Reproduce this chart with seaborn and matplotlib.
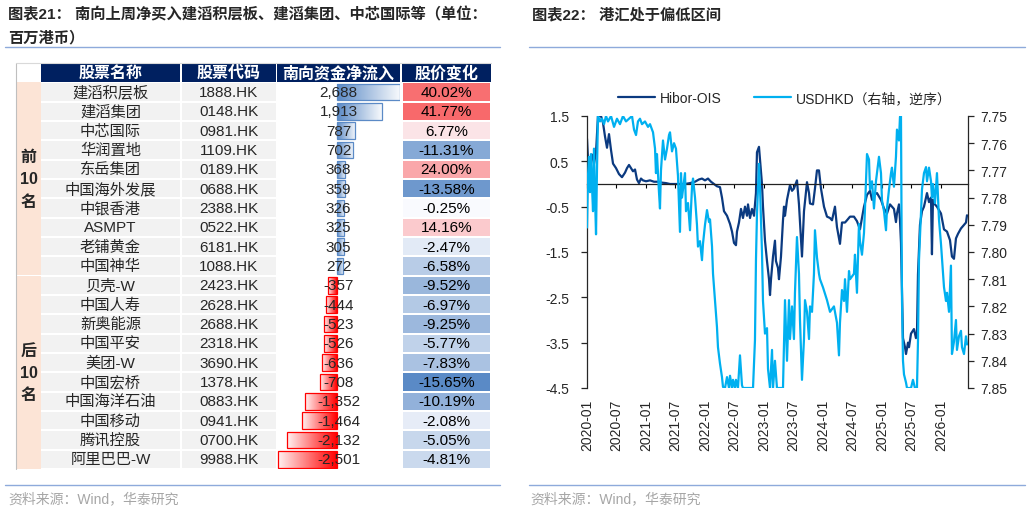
import numpy as np
import pandas as pd
import matplotlib
matplotlib.use("Agg")
import matplotlib.pyplot as plt
import matplotlib.dates as mdates
from matplotlib.colors import LinearSegmentedColormap, TwoSlopeNorm
from matplotlib.patches import Rectangle
import seaborn as sns

# ---------------- 表格数据 ----------------
names = ['建滔积层板', '建滔集团', '中芯国际', '华润置地', '东岳集团', '中国海外发展',
         '中银香港', 'ASMPT', '老铺黄金', '中国神华', '贝壳-W', '中国人寿', '新奥能源',
         '中国平安', '美团-W', '中国宏桥', '中国海洋石油', '中国移动', '腾讯控股', '阿里巴巴-W']
codes = ['1888.HK', '0148.HK', '0981.HK', '1109.HK', '0189.HK', '0688.HK', '2388.HK',
         '0522.HK', '6181.HK', '1088.HK', '2423.HK', '2628.HK', '2688.HK', '2318.HK',
         '3690.HK', '1378.HK', '0883.HK', '0941.HK', '0700.HK', '9988.HK']
net_inflow = [2688, 1913, 787, 702, 368, 359, 326, 325, 305, 272,
              -357, -444, -523, -526, -636, -708, -1352, -1464, -2132, -2501]
price_chg = [40.02, 41.77, 6.77, -11.31, 24.00, -13.58, -0.25, 14.16, -2.47, -6.58,
             -9.52, -6.97, -9.25, -5.77, -7.83, -15.65, -10.19, -2.08, -5.05, -4.81]
headers = ['股票名称', '股票代码', '南向资金净流入', '股价变化']
groups = ['前\n10\n名', '后\n10\n名']

# ---------------- 港汇数据 (时间: 距2020-01-01的年数) ----------------
hibor_t = [0.000, 0.017, 0.051, 0.085, 0.119, 0.153, 0.186, 0.237, 0.271, 0.305,
           0.339, 0.373, 0.407, 0.441, 0.492, 0.542, 0.593, 0.644, 0.678, 0.712,
           0.746, 0.780, 0.814, 0.847, 0.881, 0.915, 0.949, 1.000, 1.068, 1.136,
           1.203, 1.271, 1.339, 1.407, 1.492, 1.576, 1.661, 1.746, 1.831, 1.898,
           1.949, 2.000, 2.051, 2.102, 2.153, 2.203, 2.254, 2.288, 2.322, 2.373,
           2.424, 2.458, 2.492, 2.525, 2.542, 2.576, 2.610, 2.644, 2.678, 2.712,
           2.729, 2.763, 2.797, 2.831, 2.864, 2.881, 2.915, 2.932, 2.966, 2.983,
           3.017, 3.051, 3.085, 3.102, 3.119, 3.153, 3.186, 3.203, 3.237, 3.254,
           3.288, 3.322, 3.339, 3.356, 3.390, 3.441, 3.475, 3.508, 3.559, 3.593,
           3.627, 3.644, 3.678, 3.729, 3.763, 3.780, 3.831, 3.864, 3.898, 3.932,
           3.966, 4.017, 4.068, 4.119, 4.153, 4.203, 4.237, 4.288, 4.322, 4.373,
           4.407, 4.458, 4.525, 4.576, 4.627, 4.695, 4.746, 4.797, 4.831, 4.864,
           4.915, 4.983, 5.034, 5.085, 5.136, 5.203, 5.237, 5.254, 5.288, 5.305,
           5.322, 5.339, 5.356, 5.390, 5.407, 5.441, 5.458, 5.492, 5.542, 5.576,
           5.593, 5.610, 5.644, 5.678, 5.712, 5.763, 5.797, 5.831, 5.847, 5.864,
           5.898, 5.932, 6.000, 6.051, 6.102, 6.153, 6.186, 6.220, 6.254, 6.288,
           6.339, 6.390, 6.424, 6.441]
hibor_v = [1.0, 0.55, 0.5, 0.65, 0.45, 0.7, 1.5, 1.5, 1.35, 1.05,
           0.8, 1.1, 0.75, 0.45, 0.35, 0.22, 0.15, 0.25, 0.35, 0.42,
           0.35, 0.28, 0.32, 0.1, 0.02, 0.12, 0.08, 0.06, 0.08, 0.05,
           0.05, 0.03, 0.02, 0.0, 0.0, 0.0, 0.0, 0.02, 0.05, 0.1,
           0.12, 0.08, 0.12, 0.05, 0.0, -0.05, -0.07, -0.3, -0.6, -0.7,
           -0.88, -1.05, -1.3, -1.35, -1.05, -0.85, -0.55, -0.75, -0.5, -0.7,
           -0.45, -0.75, -0.55, -0.7, -0.2, 0.7, 0.82, 0.55, 0.0, -0.5,
           -1.25, -1.7, -2.1, -2.45, -2.1, -1.6, -1.25, -1.7, -1.85, -2.1,
           -1.6, -0.8, -0.5, -0.7, -0.35, -0.02, -0.15, -0.1, 0.08, -0.45,
           -1.2, -1.6, -0.6, 0.04, -0.2, -0.43, -0.45, -0.1, 0.3, 0.3,
           -0.1, -0.5, -0.72, -0.75, -0.8, -0.5, -0.95, -1.32, -0.85, -0.85,
           -0.8, -0.72, -0.72, -0.82, -1.0, -0.5, -0.24, -0.15, -0.35, -0.24,
           -0.2, -0.35, -0.54, -0.65, -0.45, -0.55, -0.84, -0.65, -0.45, -0.8,
           -1.3, -2.4, -3.4, -3.6, -3.75, -3.5, -3.6, -3.3, -3.2, -3.4,
           -3.3, -2.0, -0.9, -0.6, -0.5, -0.2, -0.4, -0.3, -1.55, -0.35,
           -0.45, -0.5, -0.65, -1.0, -1.05, -1.24, -1.6, -1.65, -1.2, -1.1,
           -0.98, -0.9, -0.85, -0.69]

usd_t = [0.000, 0.017, 0.034, 0.051, 0.068, 0.085, 0.102, 0.119, 0.136, 0.153,
         0.169, 0.186, 0.220, 0.254, 0.288, 0.322, 0.356, 0.407, 0.458, 0.508,
         0.559, 0.610, 0.661, 0.712, 0.763, 0.797, 0.831, 0.864, 0.898, 0.932,
         0.983, 1.034, 1.068, 1.119, 1.153, 1.169, 1.186, 1.220, 1.237, 1.254,
         1.288, 1.322, 1.356, 1.390, 1.407, 1.441, 1.475, 1.508, 1.542, 1.559,
         1.576, 1.593, 1.610, 1.627, 1.661, 1.678, 1.712, 1.746, 1.780, 1.797,
         1.831, 1.864, 1.881, 1.915, 1.949, 1.966, 2.000, 2.034, 2.068, 2.085,
         2.119, 2.136, 2.169, 2.203, 2.220, 2.254, 2.288, 2.305, 2.339, 2.373,
         2.407, 2.424, 2.458, 2.475, 2.508, 2.525, 2.559, 2.593, 2.627, 2.644,
         2.712, 2.763, 2.814, 2.847, 2.864, 2.881, 2.915, 2.932, 2.966, 2.983,
         3.017, 3.051, 3.068, 3.102, 3.136, 3.153, 3.186, 3.220, 3.271, 3.322,
         3.339, 3.356, 3.390, 3.424, 3.441, 3.475, 3.508, 3.525, 3.559, 3.593,
         3.610, 3.644, 3.678, 3.695, 3.729, 3.763, 3.780, 3.814, 3.847, 3.864,
         3.898, 3.932, 3.949, 4.000, 4.068, 4.119, 4.186, 4.237, 4.271, 4.288,
         4.322, 4.356, 4.373, 4.407, 4.441, 4.458, 4.525, 4.542, 4.576, 4.610,
         4.627, 4.661, 4.695, 4.712, 4.746, 4.780, 4.797, 4.831, 4.864, 4.898,
         4.915, 4.949, 4.983, 5.000, 5.034, 5.068, 5.085, 5.119, 5.153, 5.169,
         5.203, 5.237, 5.254, 5.288, 5.305, 5.322, 5.339, 5.356, 5.373, 5.407,
         5.424, 5.492, 5.525, 5.559, 5.593, 5.610, 5.627, 5.661, 5.678, 5.712,
         5.746, 5.763, 5.797, 5.831, 5.847, 5.864, 5.898, 5.932, 5.966, 6.000,
         6.051, 6.085, 6.102, 6.136, 6.169, 6.186, 6.220, 6.254, 6.271, 6.305,
         6.339, 6.356, 6.390, 6.424, 6.441]
usd_v = [7.791, 7.772, 7.765, 7.778, 7.764, 7.776, 7.785, 7.762, 7.780, 7.7935,
         7.770, 7.750, 7.752, 7.751, 7.753, 7.750, 7.752, 7.750, 7.754, 7.751,
         7.753, 7.750, 7.752, 7.751, 7.750, 7.755, 7.757, 7.752, 7.751, 7.753,
         7.752, 7.754, 7.753, 7.756, 7.762, 7.771, 7.764, 7.778, 7.784, 7.770,
         7.759, 7.766, 7.762, 7.757, 7.756, 7.763, 7.760, 7.762, 7.772, 7.782,
         7.7926, 7.771, 7.780, 7.777, 7.771, 7.785, 7.782, 7.792, 7.776, 7.773,
         7.780, 7.790, 7.798, 7.796, 7.803, 7.797, 7.790, 7.7846, 7.789, 7.788,
         7.798, 7.808, 7.8177, 7.8276, 7.835, 7.841, 7.846, 7.8496, 7.850, 7.846,
         7.850, 7.8455, 7.850, 7.847, 7.850, 7.847, 7.850, 7.838, 7.849, 7.850,
         7.850, 7.850, 7.850, 7.8324, 7.803, 7.786, 7.7676, 7.776, 7.800, 7.818,
         7.830, 7.828, 7.843, 7.850, 7.836, 7.850, 7.840, 7.850, 7.850, 7.850,
         7.834, 7.8177, 7.840, 7.8177, 7.832, 7.820, 7.832, 7.815, 7.7945, 7.808,
         7.825, 7.847, 7.832, 7.8177, 7.822, 7.832, 7.820, 7.822, 7.808, 7.792,
         7.802, 7.808, 7.810, 7.813, 7.8177, 7.822, 7.820, 7.826, 7.838, 7.826,
         7.814, 7.818, 7.810, 7.822, 7.807, 7.810, 7.808, 7.801, 7.815, 7.7897,
         7.796, 7.801, 7.793, 7.784, 7.764, 7.766, 7.777, 7.774, 7.784, 7.774,
         7.771, 7.765, 7.771, 7.781, 7.785, 7.792, 7.784, 7.777, 7.771, 7.769,
         7.776, 7.765, 7.755, 7.759, 7.7503, 7.750, 7.8177, 7.840, 7.845, 7.848,
         7.850, 7.850, 7.847, 7.850, 7.850, 7.833, 7.803, 7.786, 7.777, 7.771,
         7.7688, 7.774, 7.769, 7.774, 7.780, 7.775, 7.782, 7.771, 7.788, 7.797,
         7.8129, 7.818, 7.815, 7.822, 7.805, 7.8375, 7.833, 7.825, 7.836, 7.831,
         7.829, 7.835, 7.8375, 7.831, 7.834]

hibor_ticks = [1.5, 0.5, -0.5, -1.5, -2.5, -3.5, -4.5]
usd_ticks = [7.75, 7.76, 7.77, 7.78, 7.79, 7.80, 7.81, 7.82, 7.83, 7.84, 7.85]
x_labels = ['2020-01', '2020-07', '2021-01', '2021-07', '2022-01', '2022-07', '2023-01',
            '2023-07', '2024-01', '2024-07', '2025-01', '2025-07', '2026-01']

# ---------------- 样式 ----------------
sns.set_style("ticks")
plt.rcParams['font.family'] = ['Liberation Sans', 'Noto Sans CJK SC']
plt.rcParams['axes.unicode_minus'] = False

W, H = 1030, 510
fig = plt.figure(figsize=(10.3, 5.1), dpi=100)


def fx(x):
    return x / W


def fy(y):
    return 1 - y / H


NAVY = '#002060'
LINE_C = '#8EAADB'

# 标题、分隔线、来源
fig.text(fx(8), fy(15), '图表21： 南向上周净买入建滔积层板、建滔集团、中芯国际等（单位：',
         fontsize=11, fontweight='bold', va='center')
fig.text(fx(8), fy(38), '百万港币）', fontsize=11, fontweight='bold', va='center')
fig.text(fx(532), fy(15), '图表22： 港汇处于偏低区间', fontsize=11, fontweight='bold', va='center')
for x0, x1 in [(5, 500), (529, 1025)]:
    for yy in [48, 486]:
        fig.add_artist(plt.Line2D([fx(x0), fx(x1)], [fy(yy), fy(yy)],
                                  transform=fig.transFigure, color=LINE_C, lw=1))
for xs in [8, 530]:
    fig.text(fx(xs), fy(499), '资料来源：Wind，华泰研究', color='#A6A6A6', fontsize=10, va='center')

# ---------------- 左侧表格 ----------------
top, bot = 64, 470
row_h = (bot - top) / 21
ax_tab = fig.add_axes([fx(16), fy(bot), fx(491) - fx(16), (bot - top) / H])
ax_tab.set_xlim(16, 491)
ax_tab.set_ylim(19.5, -1.5)
ax_tab.axis('off')

col_edges = [(41, 180), (182, 276), (277, 400), (402, 491)]
for (x0, x1), h in zip(col_edges, headers):
    ax_tab.add_patch(Rectangle((x0, -1.47), x1 - x0, 0.94, fc=NAVY, ec='none'))
    ax_tab.text((x0 + x1) / 2, -1.0, h, color='white', fontsize=11.5, fontweight='bold',
                ha='center', va='center')

ax_tab.add_patch(Rectangle((16.5, -0.5), 24, 9.97, fc='#FCE4D6', ec='none'))
ax_tab.add_patch(Rectangle((16.5, 9.53), 24, 9.97, fc='#FCE4D6', ec='none'))
for k, g in enumerate(groups):
    ax_tab.text(28.5, 4.5 + 10 * k, g, fontsize=11.5, fontweight='bold', ha='center',
                va='center', linespacing=1.6)

for i in range(len(names)):
    for x0, x1 in col_edges[:2]:
        ax_tab.add_patch(Rectangle((x0, i - 0.45), x1 - x0, 0.9, fc='#F2F2F2', ec='none'))
    ax_tab.text(110.5, i, names[i], fontsize=11, ha='center', va='center', color='#262626')
    ax_tab.text(229, i, codes[i], fontsize=11, ha='center', va='center')
ax_tab.plot([16, 16], [-1.5, 19.5], color='#BFBFBF', lw=0.8, clip_on=False)
ax_tab.plot([16, 491], [-1.5, -1.5], color='#D9D9D9', lw=0.8, clip_on=False)

# 数据条
rows_top = top + row_h
ax_bar = fig.add_axes([fx(277), fy(bot), fx(400) - fx(277), (bot - rows_top) / H])
sns.barplot(x=net_inflow, y=names, orient='h', ax=ax_bar, width=0.86, color='#5B8AC6')
bar_lim = (-2547, 2701)
for p, v in zip(ax_bar.patches, net_inflow):
    col = '#5B8AC6' if v > 0 else '#FF0000'
    cm = LinearSegmentedColormap.from_list('grad', [col, '#FFFFFF'])
    x0, w = p.get_x(), p.get_width()
    y0, h = p.get_y(), p.get_height()
    left, right = min(x0, x0 + w), max(x0, x0 + w)
    grad = np.linspace(0, 0.95, 256)[None, :]
    if v < 0:
        grad = grad[:, ::-1]
    im = ax_bar.imshow(grad, cmap=cm, vmin=0, vmax=1, extent=[left, right, y0 + h, y0],
                       aspect='auto', interpolation='bilinear', zorder=1)
    im.set_clip_path(p)
    p.set_facecolor('none')
    p.set_edgecolor(col)
    p.set_linewidth(0.9)
    p.set_zorder(2)
for i, v in enumerate(net_inflow):
    ax_bar.text(0.5, i, f'{v:,}', transform=ax_bar.get_yaxis_transform(), fontsize=11,
                ha='center', va='center', zorder=3)
ax_bar.set_xlim(*bar_lim)
ax_bar.set_ylim(19.5, -0.5)
ax_bar.axis('off')

# 股价变化色阶
ax_hm = fig.add_axes([fx(402), fy(bot), fx(491) - fx(402), (bot - rows_top) / H])
chg_df = pd.DataFrame({'股价变化': price_chg}, index=names)
chg_cmap = LinearSegmentedColormap.from_list('chg', ['#5A8AC6', '#FCFCFF', '#F8696B'])
chg_txt = np.array([f'{v:.2f}%' for v in price_chg]).reshape(-1, 1)
sns.heatmap(chg_df, ax=ax_hm, cmap=chg_cmap,
            norm=TwoSlopeNorm(vmin=min(price_chg), vcenter=0, vmax=max(price_chg)),
            annot=chg_txt, fmt='', cbar=False, linewidths=1.2, linecolor='white',
            xticklabels=False, yticklabels=False,
            annot_kws={'fontsize': 11, 'color': 'black'})
ax_hm.set_xlabel('')
ax_hm.set_ylabel('')

# ---------------- 右侧折线图 ----------------
start = pd.Timestamp('2020-01-01')


def to_dates(t):
    return start + pd.to_timedelta(np.asarray(t) * 365.25, unit='D')


ax = fig.add_axes([fx(587), fy(389), fx(968) - fx(587), 272 / H])
ax2 = ax.twinx()
sns.lineplot(x=to_dates(hibor_t), y=hibor_v, ax=ax, color='#0B3A80', lw=1.6)
sns.lineplot(x=to_dates(usd_t), y=usd_v, ax=ax2, color='#00B0F0', lw=1.6)

ax.set_ylim(-4.5, 1.5)
ax2.set_ylim(7.85, 7.75)
ax.set_xlim(start, start + pd.Timedelta(days=6.458 * 365.25))

tick_dates = pd.to_datetime([s + '-01' for s in x_labels])
ax.set_xticks(tick_dates)
ax.tick_params(axis='x', direction='out', length=3, width=0.8, labelbottom=False,
               bottom=True, colors='black')
for d, lbl in zip(tick_dates, x_labels):
    ax.text(mdates.date2num(d), -0.04, lbl, transform=ax.get_xaxis_transform(),
            rotation=90, ha='center', va='top', fontsize=10)

ax.set_yticks(hibor_ticks)
ax.set_yticklabels([f'{v:.1f}' for v in hibor_ticks])
ax.tick_params(axis='y', direction='out', length=4, width=0.9, pad=9, labelsize=10, left=True)
ax2.set_yticks(usd_ticks)
ax2.set_yticklabels([f'{v:.2f}' for v in usd_ticks])
ax2.tick_params(axis='y', direction='out', length=4, width=0.9, pad=5, labelsize=10, right=True)

for s in ['top', 'right']:
    ax.spines[s].set_visible(False)
ax.spines['bottom'].set_position(('data', 0))
ax.spines['bottom'].set_color('#222222')
ax.spines['bottom'].set_linewidth(0.9)
ax.spines['left'].set_linewidth(0.9)
for s in ['top', 'bottom', 'left']:
    ax2.spines[s].set_visible(False)
ax2.spines['right'].set_linewidth(0.9)
for a in (ax, ax2):
    a.set_xlabel('')
    a.set_ylabel('')

fig.legend([ax.lines[0], ax2.lines[0]], ['Hibor-OIS', 'USDHKD（右轴，逆序）'],
           loc='center', bbox_to_anchor=(fx(785), fy(99)), ncol=2, frameon=False,
           fontsize=10, handlelength=2.7, columnspacing=2.3, handletextpad=0.35)

fig.savefig('out.png', dpi=100)
